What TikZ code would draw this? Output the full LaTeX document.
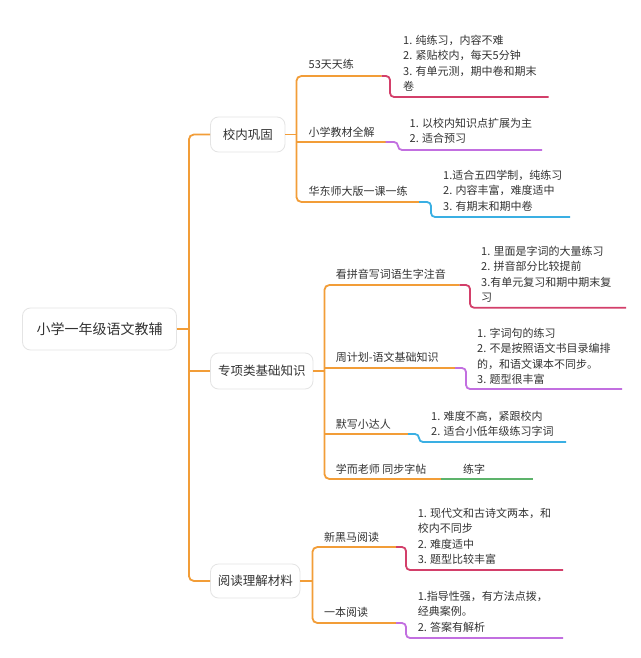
\documentclass[tikz,border=0pt]{standalone}
\usepackage{fontspec}
\usetikzlibrary{calc}
\setmainfont{Noto Sans CJK SC}
\definecolor{orng}{HTML}{F29D38}
\definecolor{crim}{HTML}{D33F6A}
\definecolor{purp}{HTML}{C26FE0}
\definecolor{blu}{HTML}{3AAFE3}
\definecolor{grn}{HTML}{5DB36B}
\definecolor{boxgray}{HTML}{E4E4E4}
\definecolor{txt}{HTML}{333333}
\begin{document}
\begin{tikzpicture}[x=1pt,y=-1pt,
  box/.style={draw=boxgray, line width=0.8pt, fill=white, rounded corners=8pt, inner sep=0pt, text=txt},
  lab/.style={anchor=west, inner sep=0pt, text=txt, font=\fontsize{11}{15}\selectfont},
  blk/.style={anchor=north west, inner sep=0pt, text=txt, align=left, font=\fontsize{11}{15.3}\selectfont},
  oline/.style={draw=orng, line width=1.8pt, rounded corners=5pt},
  cline/.style={line width=1.8pt, rounded corners=4pt},
]
\useasboundingbox (0,0) rectangle (640,658);
\fill[white] (0,0) rectangle (640,658);

% main boxes
\node[box, minimum width=154pt, minimum height=42pt, font=\fontsize{14}{16}\selectfont] (root) at (99.5,329) {小学一年级语文教辅};
\node[box, minimum width=74.5pt, minimum height=35pt, font=\fontsize{12.5}{15}\selectfont] (b1) at (247.75,134.5) {校内巩固};
\node[box, minimum width=102.5pt, minimum height=36pt, font=\fontsize{12.5}{15}\selectfont] (b2) at (261.75,371) {专项类基础知识};
\node[box, minimum width=89.5pt, minimum height=34pt, font=\fontsize{12.5}{15}\selectfont] (b3) at (255.25,581) {阅读理解材料};

% trunk
\coordinate (tr) at ($(root.east)+(12,0)$);
\draw[oline] (b1.west) -| (tr) |- (b3.west);
\draw[oline] (root.east) -- (tr);
\draw[oline] (b2.west) -- (b2.west -| tr);

% group 1
\coordinate (s1) at ($(b1.east)+(11,0)$);
\coordinate (k11) at (381.5,76);
\coordinate (k12) at (385.6,142);
\coordinate (k13) at (419,202);
\draw[oline] (k11) -| (s1) |- (k13);
\draw[oline] (b1.east) -- (s1);
\draw[oline] (k12 -| s1) -- (k12);
\draw[cline, draw=crim] (k11) -| (390,97) -- (548.5,97);
\draw[cline, draw=purp] (k12) -| (398,150) -- (542,150);
\draw[cline, draw=blu] (k13) -| (431,217) -- (570,217);
\node[lab] (l11) at (308.5,64) {53天天练};
\node[lab] (l12) at (308.5,132) {小学教材全解};
\node[lab] (l13) at (308.5,191) {华东师大版一课一练};
\node[blk] (t11) at (403,35) {1. 纯练习，内容不难\\2. 紧贴校内，每天5分钟\\3. 有单元测，期中卷和期末\\卷};
\node[blk] (t12) at (409.5,118) {1. 以校内知识点扩展为主\\2. 适合预习};
\node[blk] (t13) at (443,170) {1.适合五四学制，纯练习\\2. 内容丰富，难度适中\\3. 有期末和期中卷};

% group 2
\coordinate (s2) at ($(b2.east)+(11,0)$);
\coordinate (k21) at (459.5,285);
\coordinate (k22) at (455,368);
\coordinate (k23) at (408,434);
\coordinate (k24) at (441,479);
\draw[oline] (k21) -| (s2) |- (k24);
\draw[oline] (b2.east) -- (s2);
\draw[oline] (k22 -| s2) -- (k22);
\draw[oline] (k23 -| s2) -- (k23);
\draw[cline, draw=crim] (k21) -| (470,307.7) -- (626,307.7);
\draw[cline, draw=purp] (k22) -| (466,389) -- (622,389);
\draw[cline, draw=blu] (k23) -| (419,442) -- (566,442);
\draw[cline, draw=grn] (k24) -- (533,479);
\node[lab] (l21) at (335.6,274) {看拼音写词语生字注音};
\node[lab] (l22) at (335.6,357) {周计划-语文基础知识};
\node[lab] (l23) at (335.6,424) {默写小达人};
\node[lab] (l24) at (335.6,469) {学而老师 同步字帖};
\node[blk] (t21) at (481,246) {1. 里面是字词的大量练习\\2. 拼音部分比较提前\\3.有单元复习和期中期末复\\习};
\node[blk] (t22) at (477,328) {1. 字词句的练习\\2. 不是按照语文书目录编排\\的，和语文课本不同步。\\3. 题型很丰富};
\node[blk] (t23) at (431,411) {1. 难度不高，紧跟校内\\2. 适合小低年级练习字词};
\node[lab] (t24) at (463,469) {练字};

% group 3
\coordinate (s3) at ($(b3.east)+(12,0)$);
\coordinate (k31) at (396,547);
\coordinate (k32) at (396,623);
\draw[oline] (k31) -| (s3) |- (k32);
\draw[oline] (b3.east) -- (s3);
\draw[cline, draw=crim] (k31) -| (406,570) -- (563,570);
\draw[cline, draw=purp] (k32) -| (406,638) -- (563,638);
\node[lab] (l31) at (324,537) {新黑马阅读};
\node[lab] (l32) at (324,612) {一本阅读};
\node[blk] (t31) at (417.6,508) {1. 现代文和古诗文两本，和\\校内不同步\\2. 难度适中\\3. 题型比较丰富};
\node[blk] (t32) at (417.6,591) {1.指导性强，有方法点拨，\\经典案例。\\2. 答案有解析};
\end{tikzpicture}
\end{document}
